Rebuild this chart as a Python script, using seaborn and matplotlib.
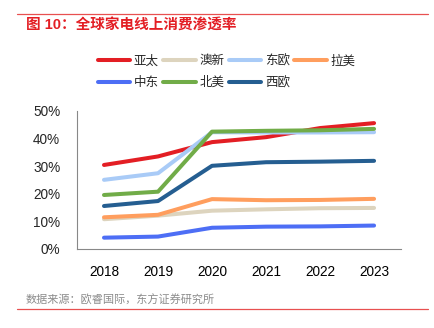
import matplotlib
matplotlib.use("Agg")
import matplotlib.pyplot as plt
import seaborn as sns
import pandas as pd
from matplotlib.lines import Line2D
from matplotlib.ticker import FuncFormatter, FixedLocator

years = [2018, 2019, 2020, 2021, 2022, 2023]
series_names = ["亚太", "澳新", "东欧", "拉美", "中东", "北美", "西欧"]
apac = [30.4, 33.5, 38.7, 40.5, 43.8, 45.6]
anz = [10.7, 12.0, 13.8, 14.3, 14.7, 14.8]
eeu = [25.0, 27.4, 42.3, 42.2, 42.2, 42.3]
latam = [11.4, 12.3, 18.0, 17.6, 17.7, 18.1]
mea = [4.0, 4.4, 7.6, 8.0, 8.1, 8.4]
nam = [19.5, 20.7, 42.5, 42.8, 43.0, 43.5]
weu = [15.5, 17.3, 30.1, 31.4, 31.6, 31.9]
values = [apac, anz, eeu, latam, mea, nam, weu]
colors = ["#E31E24", "#DDD4BE", "#A9CBF7", "#FF9E5E", "#4D6EF5", "#71AC48", "#255E91"]

rows = []
for name, vals in zip(series_names, values):
    for y, v in zip(years, vals):
        rows.append({"year": y, "value": v / 100.0, "region": name})
df = pd.DataFrame(rows)

sns.set_style("white")
plt.rcParams["font.family"] = ["Liberation Sans", "Noto Sans CJK SC", "DejaVu Sans"]

fig = plt.figure(figsize=(4.35, 3.28), dpi=100)
ax = fig.add_axes([0.177, 0.2418, 0.745, 0.4198])

palette = dict(zip(series_names, colors))
sns.lineplot(data=df, x="year", y="value", hue="region", hue_order=series_names,
             palette=palette, linewidth=2.9, ax=ax, legend=False)

ax.set_xlim(2017.5, 2023.5)
ax.set_ylim(0, 0.5)
ax.set_yticks([0, 0.1, 0.2, 0.3, 0.4, 0.5])
ax.yaxis.set_major_formatter(FuncFormatter(lambda v, p: f"{v*100:.0f}%"))
ax.set_xticks(years)
ax.set_xticklabels([str(y) for y in years])
ax.xaxis.set_minor_locator(FixedLocator([2018.5, 2019.5, 2020.5, 2021.5, 2022.5, 2023.5]))
ax.tick_params(axis="x", which="major", length=0, labelsize=9.8, pad=12, colors="black")
ax.tick_params(axis="x", which="minor", length=4, direction="in", color="#888888", width=0.8)
ax.tick_params(axis="y", which="major", length=4, direction="in", color="#888888", width=0.8,
               labelsize=9.8, pad=12)
ax.set_xlabel("")
ax.set_ylabel("")
for s in ["top", "right"]:
    ax.spines[s].set_visible(False)
for s in ["left", "bottom"]:
    ax.spines[s].set_color("#888888")
    ax.spines[s].set_linewidth(0.8)

handles = [Line2D([0], [0], color=c, lw=2.9) for c in colors]
order = [0, 4, 1, 5, 2, 6, 3]
fig.legend([handles[i] for i in order], [series_names[i] for i in order],
           loc="upper left", bbox_to_anchor=(0.21, 0.851), ncol=4, frameon=False,
           fontsize=9, handlelength=2.6, handletextpad=0.3, columnspacing=0.35,
           labelspacing=0.77, borderpad=0)

fig.add_artist(Line2D([17 / 435, 428 / 435], [1 - 13.5 / 328, 1 - 13.5 / 328],
                      color="#E85050", lw=0.9, transform=fig.transFigure))
fig.add_artist(Line2D([17 / 435, 428 / 435], [1 - 308.5 / 328, 1 - 308.5 / 328],
                      color="#E85050", lw=0.9, transform=fig.transFigure))
fig.text(26 / 435, 1 - 25.5 / 328, "图 10：全球家电线上消费渗透率", color="#E31E24",
         fontsize=10.5, fontweight="bold", va="center", ha="left")
fig.text(26 / 435, 1 - 300.5 / 328, "数据来源：欧睿国际，东方证券研究所", color="#8C8C8C",
         fontsize=8, va="center", ha="left")

fig.savefig("out.png", dpi=100)
